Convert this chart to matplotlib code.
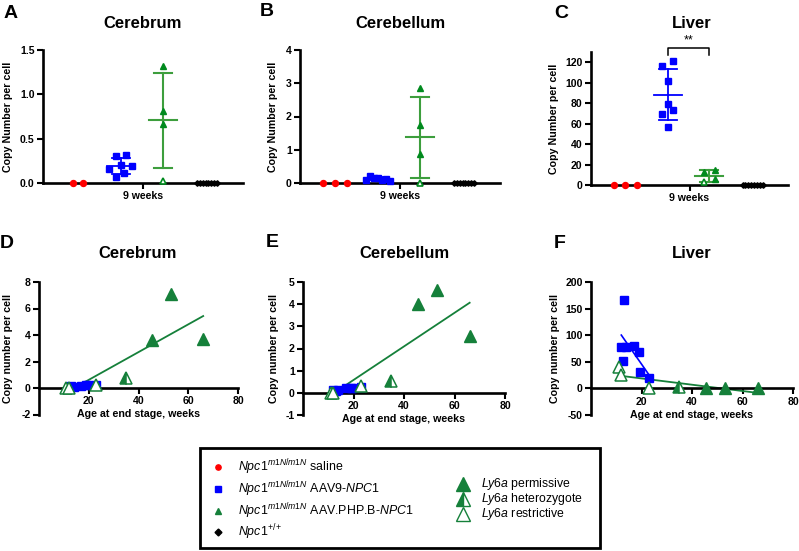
import numpy as np
import matplotlib
matplotlib.use("Agg")
import matplotlib.pyplot as plt
from matplotlib.patches import Rectangle

plt.rcParams['font.family'] = ['Liberation Sans', 'DejaVu Sans']
plt.rcParams['mathtext.fontset'] = 'custom'
plt.rcParams['mathtext.rm'] = 'Liberation Sans'
plt.rcParams['mathtext.it'] = 'Liberation Sans:italic'
plt.rcParams['mathtext.bf'] = 'Liberation Sans:bold'

# ------------------------------------------------------------------ data
# Top row (9 weeks): copy number per cell
cerebrum_saline = [0.0, 0.0]
cerebrum_aav9 = [0.30, 0.32, 0.20, 0.16, 0.195, 0.064, 0.11]
cerebrum_php_perm = [1.32, 0.81, 0.67]
cerebrum_php_restr = [0.02]
cerebrum_wt = [0.0] * 8

cerebellum_saline = [0.0, 0.0, 0.0]
cerebellum_aav9 = [0.10, 0.20, 0.15, 0.15, 0.10, 0.13, 0.07]
cerebellum_php_perm = [2.85, 1.75, 0.88]
cerebellum_php_restr = [0.0]
cerebellum_wt = [0.0] * 8

liver_saline = [0.0, 0.0, 0.0]
liver_aav9 = [116.0, 121.6, 102.0, 79.5, 73.0, 69.7, 56.8]
liver_php_perm = [13.0, 15.0, 5.5]
liver_php_restr = [2.5]
liver_wt = [0.0] * 8

top_yticks = {
    "Cerebrum": [0.0, 0.5, 1.0, 1.5],
    "Cerebellum": [0, 1, 2, 3, 4],
    "Liver": [0, 20, 40, 60, 80, 100, 120],
}
top_ticklabels = {
    "Cerebrum": ["0.0", "0.5", "1.0", "1.5"],
    "Cerebellum": ["0", "1", "2", "3", "4"],
    "Liver": ["0", "20", "40", "60", "80", "100", "120"],
}
category_label = "9 weeks"

# Bottom row: age at end stage (weeks) vs copy number
aav9_age = [12, 12.5, 13, 14, 17, 19, 19.5, 23]
aav9_cerebrum = [0.10, 0.08, 0.12, 0.10, 0.15, 0.25, 0.20, 0.20]
aav9_cerebellum = [0.15, 0.10, 0.08, 0.12, 0.20, 0.22, 0.20, 0.25]
aav9_liver = [77, 52, 167, 77, 79, 69, 30, 19]

php_age = [11, 12, 23, 35, 45.5, 53, 66]
php_genotype = ["restrictive", "restrictive", "restrictive", "heterozygote",
                "permissive", "permissive", "permissive"]
php_cerebrum = [0.0, 0.0, 0.2, 0.75, 3.6, 7.1, 3.7]
php_cerebellum = [0.0, 0.0, 0.3, 0.55, 4.0, 4.65, 2.55]
php_liver = [41, 25, 0, 3, 0, 0, 0]

bottom_yticks = {
    "Cerebrum": [-2, 0, 2, 4, 6, 8],
    "Cerebellum": [-1, 0, 1, 2, 3, 4, 5],
    "Liver": [-50, 0, 50, 100, 150, 200],
}
age_ticks = [20, 40, 60, 80]

# ------------------------------------------------------------------ style
RED = "#ff0000"
BLUE = "#0000ff"
GREEN_PT = "#008a1e"
GREEN_BAR = "#3d9e3d"
GREEN_BIG = "#15803a"
W, H = 799, 551

fig = plt.figure(figsize=(W / 100, H / 100), dpi=100)


def px_axes(l, t, r, b):
    return fig.add_axes([l / W, 1 - b / H, (r - l) / W, (b - t) / H])


def ftext(x, y, s, **kw):
    fig.text(x / W, 1 - y / H, s, **kw)


def style_axes(ax):
    for sp in ["top", "right"]:
        ax.spines[sp].set_visible(False)
    for sp in ["left", "bottom"]:
        ax.spines[sp].set_linewidth(1.9)
    ax.tick_params(width=1.5, length=4, labelsize=7.6, pad=2)
    for lab in ax.get_xticklabels() + ax.get_yticklabels():
        lab.set_fontweight("bold")


cat_pos = [0.175, 0.39, 0.60, 0.82]


def spread(n, step):
    return (np.arange(n) - (n - 1) / 2) * step


def mean_sd(ax, x, vals, color, lw):
    v = np.asarray(vals, float)
    m, s = v.mean(), v.std(ddof=1)
    ax.plot([x, x], [m - s, m + s], color=color, lw=lw, zorder=2, clip_on=False)
    ax.plot([x - 0.045, x + 0.045], [m + s] * 2, color=color, lw=lw, zorder=2, clip_on=False)
    ax.plot([x - 0.045, x + 0.045], [m - s] * 2, color=color, lw=lw, zorder=2, clip_on=False)
    ax.plot([x - 0.07, x + 0.07], [m] * 2, color=color, lw=lw, zorder=2, clip_on=False)


def top_panel(box, name, saline, aav9, perm, restr, wt, ytop, aav9_dx, perm_dx, restr_dx, red_step):
    ax = px_axes(*box)
    ax.set_xlim(0, 1)
    ax.set_ylim(0, ytop)
    ax.plot(cat_pos[0] + spread(len(saline), red_step), saline, "o", color=RED,
            ms=4.3, clip_on=False, zorder=3)
    ax.plot(cat_pos[1] + np.asarray(aav9_dx), aav9, "s", color=BLUE, ms=5,
            clip_on=False, zorder=3)
    mean_sd(ax, cat_pos[1], aav9, BLUE, 1.3)
    ax.plot(cat_pos[2] + np.asarray(perm_dx), perm, "^", color=GREEN_PT, ms=4.8,
            clip_on=False, zorder=3)
    ax.plot(cat_pos[2] + np.asarray(restr_dx), restr, "^", mfc="white", mec=GREEN_PT,
            mew=1.2, ms=4.8, clip_on=False, zorder=3)
    mean_sd(ax, cat_pos[2], list(perm) + list(restr), GREEN_BAR, 1.5)
    ax.plot(cat_pos[3] + spread(len(wt), 0.0145), wt, "D", color="black", ms=2.8,
            clip_on=False, zorder=3)
    ax.set_xticks([0.5])
    ax.set_xticklabels([category_label])
    ax.set_yticks(top_yticks[name])
    ax.set_yticklabels(top_ticklabels[name])
    style_axes(ax)
    ax.set_ylabel("Copy Number per cell", fontsize=7.7, fontweight="bold")
    return ax


axA = top_panel((43, 50, 243, 183), "Cerebrum", cerebrum_saline, cerebrum_aav9,
                cerebrum_php_perm, cerebrum_php_restr, cerebrum_wt, 1.5,
                [-0.025, 0.025, 0, -0.06, 0.055, -0.025, 0.015], [0, 0, 0], [0], 0.05)
axA.yaxis.set_label_coords(-0.15, 0.5)
axB = top_panel((300, 50, 500, 183), "Cerebellum", cerebellum_saline, cerebellum_aav9,
                cerebellum_php_perm, cerebellum_php_restr, cerebellum_wt, 4,
                spread(7, 0.02), [0, 0, 0], [0], 0.06)
axB.yaxis.set_label_coords(-0.11, 0.5)
axC = top_panel((591, 52, 788, 185), "Liver", liver_saline, liver_aav9,
                liver_php_perm, liver_php_restr, liver_wt, 130,
                [-0.028, 0.027, 0, 0, 0.027, -0.028, 0], [-0.027, 0.027, 0.027], [-0.027], 0.06)
axC.yaxis.set_label_coords(-0.16, 0.5)

# significance bracket in C
bx = [cat_pos[1], cat_pos[1], cat_pos[2], cat_pos[2]]
by = [127, 133.5, 133.5, 127]
axC.plot(bx, by, color="black", lw=1.1, clip_on=False)
axC.text((cat_pos[1] + cat_pos[2]) / 2, 135, "**", ha="center", va="bottom",
         fontsize=9, clip_on=False)


def bottom_panel(box, name, ylo, yhi, aav9_y, php_y):
    ax = px_axes(*box)
    ax.set_xlim(0, 80)
    ax.set_ylim(ylo, yhi)
    ax.spines["bottom"].set_position(("data", 0))
    # regression lines
    bx = np.asarray(aav9_age, float)
    by = np.asarray(aav9_y, float)
    cb = np.polyfit(bx, by, 1)
    xs = np.array([bx.min(), bx.max()])
    ax.plot(xs, np.polyval(cb, xs), color=BLUE, lw=1.2, zorder=2)
    gx = np.asarray(php_age, float)
    gy = np.asarray(php_y, float)
    cg = np.polyfit(gx, gy, 1)
    xs = np.array([gx.min(), gx.max()])
    ax.plot(xs, np.polyval(cg, xs), color=GREEN_BIG, lw=1.3, zorder=2)
    ax.plot(bx, by, "s", color=BLUE, ms=5.2, zorder=3, clip_on=False)
    for x, y, g in zip(php_age, php_y, php_genotype):
        if g == "permissive":
            ax.plot(x, y, "^", color=GREEN_BIG, ms=9, zorder=4, clip_on=False)
        elif g == "heterozygote":
            ax.plot(x, y, "^", color=GREEN_BIG, ms=9, fillstyle="left",
                    markerfacecoloralt="white", mec=GREEN_BIG, mew=1.1, zorder=4, clip_on=False)
        else:
            ax.plot(x, y, "^", mfc="white", mec=GREEN_BIG, ms=9, mew=1.1, zorder=4, clip_on=False)
    ax.set_xticks(age_ticks)
    ax.set_xticklabels([str(t) for t in age_ticks])
    ax.set_yticks(bottom_yticks[name])
    ax.set_yticklabels([str(t) for t in bottom_yticks[name]])
    style_axes(ax)
    ax.set_ylabel("Copy number per cell", fontsize=7.7, fontweight="bold")
    ax.set_xlabel("Age at end stage, weeks", fontsize=7.7, fontweight="bold", labelpad=2)
    return ax


axD = bottom_panel((39, 282, 238, 414.5), "Cerebrum", -2, 8, aav9_cerebrum, php_cerebrum)
axD.yaxis.set_label_coords(-0.13, 0.5)
axE = bottom_panel((303, 282, 505, 415), "Cerebellum", -1, 5, aav9_cerebellum, php_cerebellum)
axE.yaxis.set_label_coords(-0.12, 0.5)
axF = bottom_panel((591, 282, 793, 415), "Liver", -50, 200, aav9_liver, php_liver)
axF.yaxis.set_label_coords(-0.155, 0.5)

# titles and panel letters
for (x, y, s) in [(143, 23, "Cerebrum"), (400, 23, "Cerebellum"), (692, 23, "Liver"),
                  (138, 254, "Cerebrum"), (404, 254, "Cerebellum"), (692, 254, "Liver")]:
    ftext(x, y, s, ha="center", va="center", fontsize=12, fontweight="bold")
for (x, y, s) in [(4, 13, "A"), (260, 12, "B"), (554, 13, "C"),
                  (0, 243, "D"), (266, 242, "E"), (554, 244, "F")]:
    ftext(x, y, s, ha="left", va="center", fontsize=14, fontweight="bold")

# legend box
lax = fig.add_axes([0, 0, 1, 1], facecolor="none")
lax.set_xlim(0, W)
lax.set_ylim(H, 0)
lax.axis("off")
lax.add_patch(Rectangle((200, 448), 400, 100, fill=False, lw=2, ec="black"))

sup = r"$\mathit{Npc1}^{\mathit{m1N/m1N}}$"
left_items = [
    ("o", RED, 3.8, sup + " saline"),
    ("s", BLUE, 4.2, sup + r" AAV9-$\mathit{NPC1}$"),
    ("^", "#15803a", 4.2, sup + r" AAV.PHP.B-$\mathit{NPC1}$"),
    ("D", "black", 3.5, r"$\mathit{Npc1}^{+/+}$"),
]
left_rows = [467, 489, 511, 532]
for (m, c, ms, txt), y in zip(left_items, left_rows):
    lax.plot(218, y, m, color=c, ms=ms)
    lax.text(238, y, txt, ha="left", va="center", fontsize=8.9)

right_rows = [484, 499, 514]
right_text = [r"$\mathit{Ly6a}$ permissive", r"$\mathit{Ly6a}$ heterozygote",
              r"$\mathit{Ly6a}$ restrictive"]
lax.plot(463, right_rows[0], "^", color=GREEN_BIG, ms=9.5)
lax.plot(463, right_rows[1], "^", color=GREEN_BIG, ms=9.5, fillstyle="left",
         markerfacecoloralt="white", mec=GREEN_BIG, mew=1.0)
lax.plot(463, right_rows[2], "^", mfc="white", mec=GREEN_BIG, ms=9.5, mew=1.0)
for y, t in zip(right_rows, right_text):
    lax.text(481, y, t, ha="left", va="center", fontsize=8.8)

fig.savefig("out.png", dpi=100)
